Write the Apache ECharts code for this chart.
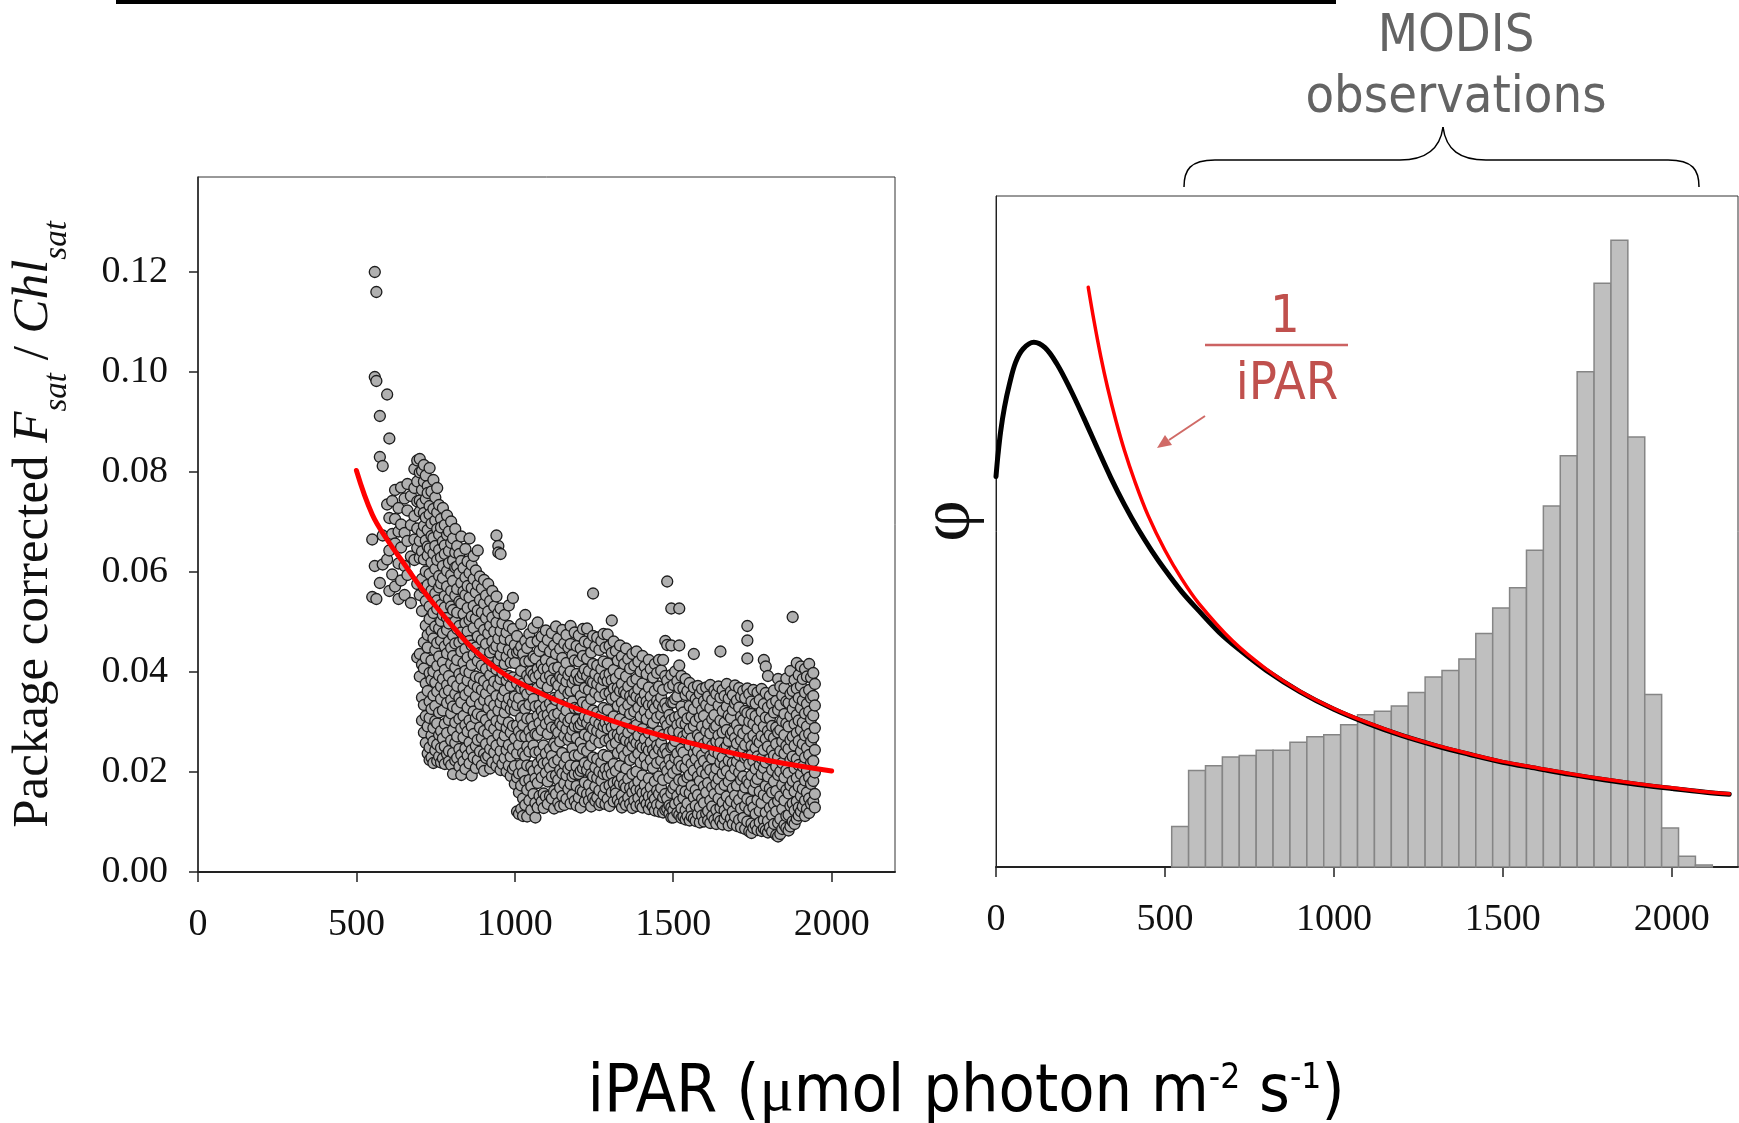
<!DOCTYPE html>
<html><head><meta charset="utf-8">
<script src="https://cdn.jsdelivr.net/npm/echarts@6/dist/echarts.min.js"></script>
<style>html,body{margin:0;padding:0;background:#fff}#chart{width:1739px;height:1123px}</style>
</head><body><div id="chart"></div>
<script>
// ---- tick labels ----
const xTicks = [0, 500, 1000, 1500, 2000];
const yTicksLeft = [0, 0.02, 0.04, 0.06, 0.08, 0.10, 0.12];

// ---- left panel: scatter columns (x = iPAR, y in 0.001 units) ----
const scatterX = [
550,558,563,574,583,597,604,613,622,633,641,652,661,672,683,692,
700,707,713,719,725,731,737,743,749,755,761,767,773,779,786,792,799,805,812,818,825,831,838,844,851,857,864,870,877,883,890,896,903,909,916,922,929,935,942,948,955,961,968,974,981,987,994,
1000,1007,1013,1020,1026,1033,1039,1046,1052,1059,1065,1072,1078,1085,1091,1098,1104,1111,1117,1124,1130,1137,1143,1150,1156,1163,1169,1176,1182,1189,1195,
1202,1208,1215,1221,1228,1234,1241,1247,1254,1260,1267,1273,1280,1286,1293,1299,1306,1312,1319,1325,1332,1338,1345,1351,1358,1364,1371,1377,1384,1390,1397,
1403,1410,1416,1423,1429,1436,1442,1449,1455,1462,1468,1475,1481,1488,1494,
1500,1506,1513,1519,1526,1532,1539,1545,1552,1558,1565,1571,1578,1584,1591,1597,1604,1610,1617,1623,1630,1636,1643,1649,1656,1662,1669,1675,1682,1688,1695,
1701,1708,1714,1721,1727,1734,1740,1747,1753,1760,1766,1773,1779,1786,1792,1799,1805,1812,1818,1825,1831,1838,1844,1851,1857,1864,1870,1877,1883,1890,1896,
1903,1909,1916,1922,1929,1935,1942,1947];
const scatterY = [
[66.5,55],[120,99,61.2],[116,98.2,54.6],[91.2,83,57.8],[81.2,67.3,61.5],[95.5,73.5,62.5],[86.7,70.8,64.3,56.2],[74.2,67.6,59.5],
[76.4,70.6,65.7,57.1],[72.8,68.1,61.7,54.6],[76.9,69.5,64.9,58.3],[74.7,67.8,61.2,55.4],[77.6,72.3,66.2,59.4],[75.2,69.4,63.1,53.8],
[80.6,76.8,71.2,66.5,62.4],[82.3,78.1,74.1,68.7,64.8,57.6,42.9],
[82.6,79.9,74.3,72.1,66.2,62.8,55.4,43.6,39.1],[80.2,76.4,73.7,67.9,64.1,58.6,52.2,41.5,34.9,30.3],[81.4,78.1,71.8,69.2,62.5,56.8,45.9,40.7,33.4,27.9],
[79.3,74.6,70.9,66.3,60.1,54.2,49.3,42.8,37.7,31.2,25.8],[77.2,75.8,68.4,65.1,63.3,57.4,47.4,44.9,36.2,29.1,23.7],
[80.8,73.2,71.5,64.7,59.6,53.1,50.6,39.8,34.1,30.8,24.9,22.4],[76.1,69.7,67.2,61.9,56.3,48.2,42.3,38.4,32.6,27.3,22.9],
[78.4,72.6,66.8,63.7,58.1,51.8,46.7,40.1,35.3,28.8,26.1,21.8],[74.9,70.3,65.2,60.6,55.7,49.1,44.4,37.9,33.2,30.2,24.3],
[76.8,71.9,68.6,62.4,54.3,52.6,45.8,41.2,36.1,29.7,25.5,22.2],[73.4,67.5,64.4,59.2,56.9,48.7,43.1,39.3,31.9,27.4,23.1],
[70.6,68.9,62.9,57.7,53.4,50.2,46.3,37.1,34.6,28.2,24.8,21.9],[72.8,66.1,61.2,58.8,51.4,47.8,41.9,38.6,32.3,26.7,22.7],
[69.4,65.3,63.6,55.2,52.9,45.1,40.4,35.8,29.6,25.1,21.6],[71.3,67.4,60.2,57.1,50.8,48.4,43.7,37.4,33.8,27.8,23.6],
[68.1,64.2,61.8,54.6,49.7,46.1,39.2,36.3,30.4,24.2,22.1],[70.1,65.8,59.4,56.2,53.1,44.8,41.6,34.4,31.7,26.3,21.4],
[66.7,62.3,58.2,52.4,47.3,43.2,38.1,33.1,28.4,23.8,19.6],[68.6,63.9,60.9,55.3,50.1,45.7,40.9,35.6,29.9,25.8,22.3],
[65.2,61.1,56.6,51.9,48.6,42.4,37.2,32.7,27.1,22.8],[63.6,59.7,54.1,49.2,45.9,39.6,34.8,30.6,24.6,21.1],
[67.1,62.2,57.8,53.7,47.9,44.1,38.6,33.9,28.7,23.4,19.4],[60.8,56.1,51.6,46.6,41.8,36.8,31.2,26.9,22.1],
[64.6,58.9,55.4,49.8,44.6,40.2,35.4,29.4,24.7,20.6],[62.1,57.2,52.8,48.1,42.9,38.3,32.9,28.1,23.3],
[66.7,59.8,54.9,50.4,46.2,39.9,36.2,30.3,25.9,21.7],[61.4,56.8,51.1,45.3,41.4,34.1,29.1,24.4,19.3],
[63.2,58.6,53.2,48.8,43.5,37.6,32.1,27.6,22.9],[60.3,55.9,50.7,44.9,39.1,35.1,30.8,25.2,20.8],
[64.3,57.4,52.3,47.1,42.2,36.9,31.6,26.4,22.4],[59.1,54.4,49.6,43.8,38.8,33.6,28.9,24.1],[56.7,51.9,46.4,41.3,36.4,31.1,26.8,21.3],
[58.4,53.7,48.4,44.2,38.2,34.4,28.2,23.6,20.2],[55.3,50.8,45.6,40.6,35.7,30.4,25.6,22.8],[57.6,52.1,47.7,42.7,37.3,32.8,27.7,23.2],
[54.2,49.2,43.9,39.4,34.2,29.3,24.6,20.7],[56.2,50.9,46.1,41.1,36.6,31.4,26.2,21.9],[53.1,48.1,44.6,38.1,33.3,28.6,23.9],
[67.3,55.1,49.9,45.2,40.5,35.2,30.2,25.3,21.2],[65.2,63.9,51.8,46.7,42.3,37.4,32.3,27.4,22.6],[63.6,52.7,48.2,43.4,38.6,33.9,29.4,24.2,20.4],
[49.7,44.9,39.8,35.1,30.6,26.1,21.6],[51.4,46.6,41.6,36.3,31.9,27.3,22.8],[47.9,43.1,38.3,33.4,28.8,24.4,20.1],
[53.3,49.2,44.4,39.2,34.7,29.9,25.4,21.3],[46.3,41.9,37.2,32.6,27.9,23.1,19.2],[54.8,48.6,43.7,38.9,33.8,29.2,24.6,20.6],
[45.4,41.8,35.1,32.3,26.7,21.2,17.6],[47.2,43.9,37.7,33.4,29.3,23.7,18.9,12.1],[44.3,38.6,34.8,28.1,25.4,19.7,15.9,11.6],
[49.6,45.1,40.2,36.7,30.8,27.2,21.4,17.3,12.6],[43.6,37.7,33.2,29.4,23.8,19.8,14.7,11.2],[51.4,46.2,42.1,36.4,32.6,27.1,23.2,18.2,13.4],
[44.8,39.3,35.6,30.7,25.1,21.3,16.4,11.1],[47.6,42.2,38.6,33.5,28.2,24.1,18.4,14.3],[45.9,40.1,36.4,30.6,26.9,21.1,17.1,12.4],
[48.8,43.1,39.5,34.6,29.1,25.3,20.2,15.6],[42.7,38.9,33.1,27.6,23.9,18.7,13.8,10.9],[49.9,46.2,40.6,36.8,31.2,27.4,21.6,17.8,12.9],
[44.2,39.4,33.3,29.8,24.1,20.4,15.2],[47.1,41.4,37.8,32.2,28.4,22.6,18.9,14.1],[45.1,40.6,34.9,31.2,25.3,21.7,15.7,12.8],
[48.3,42.4,38.9,33.1,29.6,23.7,19.8,15.1],[46.4,40.7,36.9,31.4,27.6,21.9,18.1,13.6],[44.1,39.2,33.7,30.3,24.6,20.8,15.2],
[47.8,41.9,38.3,32.6,28.9,23.2,19.1,14.7],[45.3,40.7,34.8,31.4,25.7,21.9,16.2,12.7],[49.1,43.6,38.1,34.4,28.7,25.1,19.3,15.6],
[46.7,40.9,37.3,31.7,27.9,22.4,18.4,13.8],[44.6,39.1,35.4,29.8,26.1,20.4,16.8,13.1],[48.4,42.8,38.7,33.2,29.3,23.8,19.7,15.2],
[45.7,40.3,36.6,30.9,27.2,21.6,17.7,13.4],[47.4,41.8,38.1,32.3,28.6,22.9,19.3,14.6],[44.9,39.4,35.7,30.1,26.4,20.6,16.6],
[49.2,45.6,40.1,36.2,30.7,27.1,21.3,17.6,13.7],[43.4,37.8,34.1,28.4,24.7,19.1,15.4],[47.9,42.3,38.6,32.8,29.2,23.3,19.6,14.2],
[45.2,39.6,36.3,30.4,26.8,21.1,17.2,13.3],
[47.3,42.1,38.4,32.7,29.1,23.4,19.6,14.9],[44.7,38.9,35.2,29.5,25.9,20.2,16.4,12.9],[48.6,43.2,39.6,33.9,30.2,24.6,20.7,16.1],
[46.1,40.5,36.8,31.1,27.5,21.8,17.9,14.1],[48.7,42.7,39.2,33.4,29.8,24.2,20.4,15.6],[45.8,40.2,36.4,30.8,27.1,21.4,17.4,14.3],
[43.9,38.1,34.6,28.9,25.3,19.6,15.8,13.1],[55.7,47.2,41.6,37.9,32.3,28.6,22.9,19.1,14.8],[45.1,39.6,35.9,30.2,26.6,20.9,17.1,14.2],
[46.9,41.3,37.6,31.9,28.2,22.6,18.8,14.9],[44.4,38.8,35.1,29.6,25.9,20.1,16.3,13.4],[46.2,40.6,36.9,31.3,27.7,21.9,18.2,13.9],
[47.6,42.1,38.4,32.8,29.1,23.4,19.6,15.4],[44.9,39.3,35.6,29.9,26.3,20.6,16.9,13.6],[47.5,41.7,38.2,32.4,28.7,23.1,19.4,14.6],
[45.2,39.6,35.8,30.3,26.5,20.8,17.3,13.2],[50.3,43.8,38.3,34.6,28.9,25.3,19.6,15.9],[46.1,40.4,36.7,31.1,27.4,21.6,17.8,14.1],
[44.2,38.7,35.1,29.4,25.8,20.2,16.4,15.7],[42.3,36.8,33.2,27.5,23.8,18.1,14.4],[45.3,39.7,36.2,30.6,26.9,21.2,17.6,13.7],
[43.1,37.6,33.9,28.3,24.6,18.9,15.3,12.9],[41.6,36.1,32.5,26.8,23.2,17.5,14.1],[44.7,39.1,35.6,29.9,26.3,20.7,16.9,13.4],
[42.6,37.1,33.4,27.9,24.2,18.6,14.9],[40.7,35.2,31.6,25.9,22.4,16.8,13.6],[43.6,38.1,34.4,28.8,25.2,19.6,15.9,12.8],
[41.3,35.7,32.1,26.5,22.9,17.3,14.3],[44.1,38.6,35.1,29.4,25.8,20.1,16.4,13.2],[42.1,36.6,32.9,27.3,23.7,18.1,14.8],
[40.1,34.6,31.1,25.4,21.9,16.4,13.4],
[43.2,37.7,34.1,28.6,24.9,19.3,15.8,12.9],[41.1,35.6,32.2,26.6,22.9,17.4,14.4],[39.6,34.1,30.6,24.9,21.4,15.9,13.6],
[42.4,36.9,33.4,27.8,24.3,18.7,15.1,12.6],[40.6,35.1,31.6,25.9,22.4,16.9,13.7],[38.9,33.4,29.8,24.4,20.8,15.3,13.1],
[41.6,36.2,32.7,27.1,23.6,18.1,14.6,12.3],[39.8,34.3,30.9,25.3,21.8,16.3,13.4],[42.4,37.1,33.6,28.1,24.6,19.1,15.6,12.1],
[40.3,34.9,31.4,25.8,22.3,16.8,13.5],[42.4,36.4,32.9,27.4,23.9,18.4,14.9,11.9],[46.2,39.2,33.7,30.2,24.6,21.1,15.6,12.4],
[58.1,45.4,38.3,32.8,29.3,23.7,20.2,14.7,12.6],[36.9,31.4,27.9,22.4,18.8,13.3,11.7],[52.7,45.3,39.4,33.9,30.4,24.9,21.3,15.8,12.9,10.9],
[37.4,33.9,28.2,25.1,19.8,16.7,12.3,10.9],[40.1,34.6,30.9,26.2,22.8,17.4,13.6],[38.2,35.1,29.4,23.7,20.6,15.2,11.8],
[52.7,45.3,41.3,36.8,31.2,27.9,22.1,18.4,14.1,11.4],[39.2,33.1,29.8,24.6,21.2,16.3,12.7,10.8],[36.7,31.9,27.1,23.9,18.2,14.8,11.1],
[38.6,35.4,29.6,26.4,20.9,16.1,12.4,10.5],[36.2,30.7,27.8,22.4,18.9,13.7,11.2],[37.8,33.2,28.6,25.3,19.4,15.8,10.3],
[35.3,31.1,26.7,21.6,17.2,12.6,11.1],[43.6,36.9,32.6,29.2,23.8,20.3,14.9,10.7],[34.6,30.2,25.1,22.6,16.4,13.3,10.2],
[37.2,33.8,27.4,24.2,19.1,15.4,11.6],[35.7,30.9,26.8,21.4,18.2,12.9,9.9],[36.6,32.4,29.1,23.3,20.1,14.6,11.3],
[34.2,31.2,25.6,22.2,17.1,13.8,10.1],[36.9,33.4,28.2,24.8,19.6,15.9,11.7],[35.1,29.6,26.4,21.1,17.8,12.2,10.3],
[37.4,32.8,27.7,23.2,20.4,14.3,9.8],[34.4,30.6,25.3,22.7,16.9,13.1,11.2],[36.3,31.4,28.8,24.1,19.2,15.6,10.4],
[35.6,29.2,26.1,20.7,17.6,12.4,9.6],[37.1,33.3,27.3,23.6,18.6,14.7,10.9],[44.1,34.9,30.3,25.8,21.9,16.6,12.8,10.2],
[36.4,32.2,27.9,22.9,19.7,13.9,9.5],[35.2,29.9,24.7,21.3,17.4,12.3,10.6],[37.6,33.1,28.4,25.2,20.2,15.1,11.4],
[34.7,31.3,26.2,22.3,18.1,13.4,9.3],[36.1,30.8,27.6,23.9,19.3,14.2,10.7],[35.4,32.4,28.1,21.8,16.7,12.1,9.6],
[37.3,33.7,26.8,24.4,20.6,15.3,11.1],
[34.3,29.4,25.7,22.1,17.3,13.6,9.2],[36.8,32.9,28.3,23.4,19.9,14.4,10.4],[35.1,31.1,26.4,21.2,18.4,12.7,8.9],
[36.2,30.4,27.7,24.6,19.1,15.6,10.8],[34.8,32.2,25.4,22.8,16.9,13.2,8.6],[49.2,46.3,42.7,36.7,31.8,28.6,23.1,18.3,14.6,10.1],
[35.6,30.1,26.7,21.6,17.7,12.4,8.1],[34.1,31.6,25.2,23.4,19.3,14.1,9.7,7.8],[36.4,29.6,27.3,22.2,16.4,12.9,8.8],
[33.7,31.2,24.8,20.6,17.9,11.6,9.4],[35.9,28.7,26.3,23.1,18.6,14.4,8.4],[34.4,30.3,25.9,21.4,16.1,12.2,9.9],
[36.6,32.1,27.2,22.7,19.6,13.8,8.2],[42.4,33.6,29.1,24.4,20.8,15.4,10.4,8.7],[41.1,35.8,30.9,26.6,21.9,17.2,11.9,8.3],
[39.2,32.9,28.2,25.1,19.1,14.8,10.2,7.9],[35.2,30.7,27.4,22.6,16.7,12.8,8.9],[33.6,29.2,24.3,20.4,15.9,11.3,8.1],
[36.3,31.9,26.8,23.3,18.1,13.6,9.6],[34.2,28.9,25.6,21.1,16.2,12.1,7.4],[38.6,32.4,27.9,22.9,19.4,14.2,9.8,7.1],
[37.1,33.4,28.4,24.2,20.1,15.1,10.6,7.6],[35.3,30.2,26.1,21.8,17.4,12.6,8.6],[36.8,31.6,27.4,23.7,18.9,14.3,9.4],
[38.7,34.1,29.7,25.2,20.4,16.4,11.2,8.8],[33.8,29.1,24.6,19.8,15.7,11.4,8.3],[40.2,35.6,31.2,26.4,22.4,17.3,13.2,9.1],
[51.0,36.2,32.6,27.1,23.1,18.2,13.7,10.1],[38.4,33.9,29.6,25.3,20.7,16.1,12.3,9.6],[41.8,36.7,31.4,27.8,22.6,18.8,14.1,10.6],
[39.4,34.8,30.3,26.2,21.4,17.1,12.9,11.3],
[41.1,37.2,32.8,28.4,24.2,19.6,15.2,12.1],[38.6,34.3,29.9,25.6,21.1,16.6,13.1],[40.6,35.9,31.7,27.3,22.9,18.3,14.3,11.2],
[39.1,33.6,29.1,24.8,20.3,15.9,12.6],[41.6,36.4,32.1,27.6,23.4,18.9,14.7,11.8],[38.9,34.8,30.6,26.1,21.8,17.6,13.6],
[39.8,35.2,31.3,26.9,22.2,18.2,14.1],[37.6,33.3,28.8,24.4,19.9,15.6,12.9]
];

// ---- left panel: red fit ----
const fitX = [500, 550, 600, 650, 700, 750, 800, 850, 900, 950, 1000, 1100, 1200, 1300, 1400, 1500, 1600, 1700, 1800, 1900, 2000];
const fitY = [0.0803, 0.0715, 0.0662, 0.0617, 0.0572, 0.0532, 0.0494, 0.0458, 0.0428, 0.0403, 0.0383, 0.0352, 0.0326, 0.0304, 0.0284, 0.0267, 0.0251, 0.0236, 0.0223, 0.0212, 0.0202];

// ---- right panel: phi curve (black), 1/iPAR (red), histogram of MODIS iPAR ----
const phiX = [0, 6, 14, 25, 40, 58, 80, 112, 145, 180, 220, 260, 300, 340, 380, 420, 460, 500, 550, 600, 660, 720, 800, 900, 1000, 1100, 1200, 1300, 1400, 1500, 1600, 1700, 1800, 1900, 2000, 2100, 2170];
const phiY = [58.2, 61.5, 65, 68.5, 72, 75.2, 77.2, 78.2, 77.4, 75.0, 71.2, 66.9, 62.4, 58.0, 54.0, 50.4, 47.2, 44.3, 41.0, 38.2, 35.0, 32.4, 29.3, 26.1, 23.5, 21.4, 19.6, 18.1, 16.8, 15.6, 14.7, 13.8, 13.0, 12.3, 11.7, 11.15, 10.85];
const invX = [273, 290, 310, 330, 355, 380, 410, 450, 500, 550, 600, 700, 800, 900, 1000, 1100, 1200, 1300, 1400, 1500, 1600, 1700, 1800, 1900, 2000, 2100, 2170];
const invY = [86.4, 81.4, 76.1, 71.5, 66.5, 62.1, 57.6, 52.4, 47.2, 42.9, 39.3, 33.7, 29.5, 26.2, 23.6, 21.5, 19.7, 18.2, 16.9, 15.7, 14.8, 13.9, 13.1, 12.4, 11.8, 11.2, 10.9];
const histStart = [520, 570, 620, 670, 720, 770, 820, 870, 920, 970, 1020, 1070, 1120, 1170, 1220, 1270, 1320, 1370, 1420, 1470, 1520, 1570, 1620, 1670, 1720, 1770, 1820, 1870, 1920, 1970, 2020, 2070];
const histCount = [6.05, 14.4, 15.1, 16.4, 16.6, 17.4, 17.4, 18.6, 19.4, 19.7, 21.2, 22.7, 23.2, 24.0, 26.0, 28.3, 29.3, 31.0, 34.8, 38.6, 41.6, 47.2, 53.8, 61.3, 73.8, 87.0, 93.4, 64.1, 25.7, 5.8, 1.6, 0.3];
const histBinWidth = 50;

// ---- build ----
const serif = "'Liberation Serif', 'Times New Roman', serif";
const cond = "'DejaVu Sans Condensed', 'DejaVu Sans', sans-serif";
const scatterData = [];
scatterX.forEach((x, i) => scatterY[i].forEach(y => scatterData.push([x, y / 1000])));
const zip = (a, b) => a.map((v, i) => [v, b[i]]);
const histData = histStart.map((s, i) => [s, s + histBinWidth, histCount[i]]);

const chart = echarts.init(document.getElementById('chart'));
const axisText = { fontFamily: serif, fontSize: 38, color: '#111' };
const option = {
  animation: false,
  backgroundColor: '#fff',
  grid: [
    { left: 198, top: 177, width: 697, height: 695, show: true, borderColor: '#333', borderWidth: 1 },
    { left: 996, top: 196, width: 742, height: 671, show: true, borderColor: '#333', borderWidth: 1 }
  ],
  xAxis: [
    { gridIndex: 0, type: 'value', min: 0, max: 2200, interval: 500,
      axisLine: { show: true, lineStyle: { color: '#222', width: 2 } },
      axisTick: { show: true, customValues: xTicks, length: 10, lineStyle: { color: '#222', width: 1.5 } },
      axisLabel: Object.assign({ customValues: xTicks, margin: 34, formatter: v => String(v) }, axisText),
      splitLine: { show: false } },
    { gridIndex: 1, type: 'value', min: 0, max: 2196, interval: 500,
      axisLine: { show: true, lineStyle: { color: '#222', width: 2 } },
      axisTick: { show: true, customValues: xTicks, length: 10, lineStyle: { color: '#222', width: 1.5 } },
      axisLabel: Object.assign({ customValues: xTicks, margin: 34, formatter: v => String(v) }, axisText),
      splitLine: { show: false } }
  ],
  yAxis: [
    { gridIndex: 0, type: 'value', min: 0, max: 0.139, interval: 0.02,
      axisLine: { show: true, lineStyle: { color: '#222', width: 1.5 } },
      axisTick: { show: true, customValues: yTicksLeft, length: 9, lineStyle: { color: '#222', width: 1.5 } },
      axisLabel: Object.assign({ customValues: yTicksLeft, margin: 30, formatter: v => v.toFixed(2) }, axisText),
      splitLine: { show: false },
      name: '{n|Package corrected }{i|F}{s|sat}{n| / }{i|Chl}{s|sat}',
      nameLocation: 'middle', nameRotate: 90, nameGap: 130,
      nameTextStyle: {
        fontFamily: serif, fontSize: 51, color: '#111',
        rich: {
          n: { fontFamily: serif, fontSize: 51, lineHeight: 60, verticalAlign: 'top', color: '#111' },
          i: { fontFamily: serif, fontSize: 51, fontStyle: 'italic', lineHeight: 60, verticalAlign: 'top', color: '#111' },
          s: { fontFamily: serif, fontSize: 33, fontStyle: 'italic', lineHeight: 33, padding: [33, 0, 0, 0], verticalAlign: 'top', color: '#111' }
        }
      } },
    { gridIndex: 1, type: 'value', min: 0, max: 100,
      axisLine: { show: true, lineStyle: { color: '#222', width: 1 } },
      axisTick: { show: false }, axisLabel: { show: false }, splitLine: { show: false } }
  ],
  series: [
    { type: 'scatter', xAxisIndex: 0, yAxisIndex: 0, data: scatterData, symbolSize: 11, z: 2,
      itemStyle: { color: '#b0b0b0', borderColor: '#1c1c1c', borderWidth: 1.3, opacity: 1 } },
    { type: 'line', xAxisIndex: 0, yAxisIndex: 0, data: zip(fitX, fitY), showSymbol: false, smooth: 0.4, z: 3,
      lineStyle: { color: '#ff0000', width: 5, cap: 'round' } },
    { type: 'custom', xAxisIndex: 1, yAxisIndex: 1, data: histData, encode: { x: [0, 1], y: 2 }, z: 1,
      renderItem: (params, api) => {
        const a = api.coord([api.value(0), api.value(2)]);
        const b = api.coord([api.value(1), 0]);
        return { type: 'rect', shape: { x: a[0], y: a[1], width: b[0] - a[0], height: b[1] - a[1] },
                 style: { fill: '#bfbfbf', stroke: '#858585', lineWidth: 1.5 } };
      } },
    { type: 'line', xAxisIndex: 1, yAxisIndex: 1, data: zip(phiX, phiY), showSymbol: false, smooth: 0.35, z: 4,
      lineStyle: { color: '#000', width: 5, cap: 'round' } },
    { type: 'line', xAxisIndex: 1, yAxisIndex: 1, data: zip(invX, invY), showSymbol: false, smooth: 0.35, z: 5,
      lineStyle: { color: '#ff0000', width: 3.5, cap: 'round' } }
  ],
  graphic: { elements: [
    { type: 'rect', shape: { x: 116, y: 0, width: 1220, height: 4 }, style: { fill: '#000' } },
    { type: 'text', x: 1456, y: 37, style: { text: 'MODIS', fontFamily: cond, fontSize: 52, fill: '#646464', align: 'center', verticalAlign: 'middle', textAlign: 'center', textVerticalAlign: 'middle' } },
    { type: 'text', x: 1456, y: 98, style: { text: 'observations', fontFamily: cond, fontSize: 52, fill: '#646464', align: 'center', verticalAlign: 'middle', textAlign: 'center', textVerticalAlign: 'middle' } },
    { type: 'bezierCurve', shape: { x1: 1184, y1: 187, cpx1: 1184, cpy1: 170, cpx2: 1190, cpy2: 160, x2: 1215, y2: 160 }, style: { stroke: '#000', lineWidth: 1.5, fill: null } },
    { type: 'line', shape: { x1: 1215, y1: 160, x2: 1400, y2: 160 }, style: { stroke: '#000', lineWidth: 1.5 } },
    { type: 'bezierCurve', shape: { x1: 1400, y1: 160, cpx1: 1425, cpy1: 160, cpx2: 1440, cpy2: 150, x2: 1443, y2: 127 }, style: { stroke: '#000', lineWidth: 1.5, fill: null } },
    { type: 'bezierCurve', shape: { x1: 1443, y1: 127, cpx1: 1446, cpy1: 150, cpx2: 1460, cpy2: 160, x2: 1486, y2: 160 }, style: { stroke: '#000', lineWidth: 1.5, fill: null } },
    { type: 'line', shape: { x1: 1486, y1: 160, x2: 1668, y2: 160 }, style: { stroke: '#000', lineWidth: 1.5 } },
    { type: 'bezierCurve', shape: { x1: 1668, y1: 160, cpx1: 1693, cpy1: 160, cpx2: 1699, cpy2: 170, x2: 1699, y2: 187 }, style: { stroke: '#000', lineWidth: 1.5, fill: null } },
    { type: 'text', x: 1285, y: 318, style: { text: '1', fontFamily: cond, fontSize: 52, fill: '#c0504d', align: 'center', verticalAlign: 'middle', textAlign: 'center', textVerticalAlign: 'middle' } },
    { type: 'line', shape: { x1: 1205, y1: 345, x2: 1348, y2: 345 }, style: { stroke: '#cc6262', lineWidth: 2.5 } },
    { type: 'text', x: 1287, y: 385, style: { text: 'iPAR', fontFamily: cond, fontSize: 52, fill: '#c0504d', align: 'center', verticalAlign: 'middle', textAlign: 'center', textVerticalAlign: 'middle' } },
    { type: 'line', shape: { x1: 1205, y1: 416, x2: 1169, y2: 440 }, style: { stroke: '#d06a66', lineWidth: 2 } },
    { type: 'polygon', shape: { points: [[1157, 448], [1172, 445], [1165, 435]] }, style: { fill: '#d06a66' } },
    { type: 'text', x: 950, y: 521, rotation: Math.PI / 2, style: { text: 'φ', fontFamily: serif, fontSize: 72, fill: '#111', align: 'center', verticalAlign: 'middle', textAlign: 'center', textVerticalAlign: 'middle' } },
    { type: 'text', x: 966, y: 1100, style: {
        text: '{m|iPAR (}{u|μ}{m|mol photon m}{s|-2}{m| s}{s|-1}{m|)}',
        align: 'center', verticalAlign: 'middle', textAlign: 'center', textVerticalAlign: 'middle',
        rich: {
          m: { fontFamily: cond, fontSize: 66, lineHeight: 78, verticalAlign: 'top', fill: '#000', color: '#000' },
          u: { fontFamily: serif, fontSize: 64, lineHeight: 78, verticalAlign: 'top', fill: '#000', color: '#000' },
          s: { fontFamily: cond, fontSize: 35, lineHeight: 58, verticalAlign: 'top', fill: '#000', color: '#000' }
        } } }
  ] }
};
chart.setOption(option);
</script>
</body></html>
